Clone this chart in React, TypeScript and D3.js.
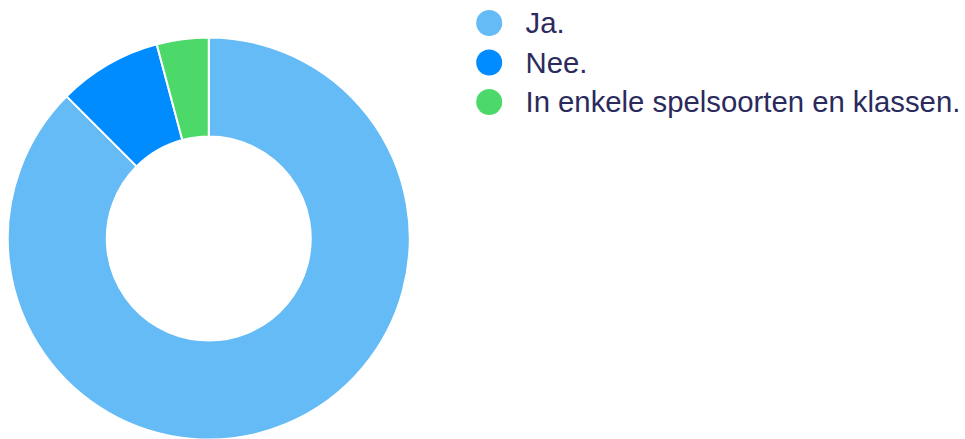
import React from "react";
import * as d3 from "d3";

const categories = ["Ja.", "Nee.", "In enkele spelsoorten en klassen."];
const values = [21, 2, 1];
const colors = ["#64bbf5", "#008cff", "#4cd96a"];

const W = 965;
const H = 439;
const cx = 208.75;
const cy = 238.5;
const outerR = 201;
const innerR = 102;

export default function App() {
  const pie = d3.pie<number>().sort(null).value((d) => d)(values);
  const arc = d3.arc<d3.PieArcDatum<number>>().innerRadius(innerR).outerRadius(outerR);
  const legendY = d3.scalePoint<string>().domain(categories).range([23, 102]);
  return (
    <svg
      width={W}
      height={H}
      style={{ position: "absolute", left: 0, top: 0, display: "block" }}
    >
      <rect width={W} height={H} fill="#ffffff" />
      <g transform={`translate(${cx},${cy})`}>
        {pie.map((p, i) => (
          <path key={i} d={arc(p) || ""} fill={colors[i]} stroke="#ffffff" strokeWidth={2} />
        ))}
      </g>
      {categories.map((c, i) => (
        <g key={c}>
          <circle cx={489.2} cy={legendY(c)} r={13} fill={colors[i]} />
          <text
            x={525.5}
            y={(legendY(c) as number) + 10}
            fontFamily="Liberation Sans, Arial, sans-serif"
            fontSize={29.3}
            fill="#2a2b5c"
          >
            {c}
          </text>
        </g>
      ))}
    </svg>
  );
}
